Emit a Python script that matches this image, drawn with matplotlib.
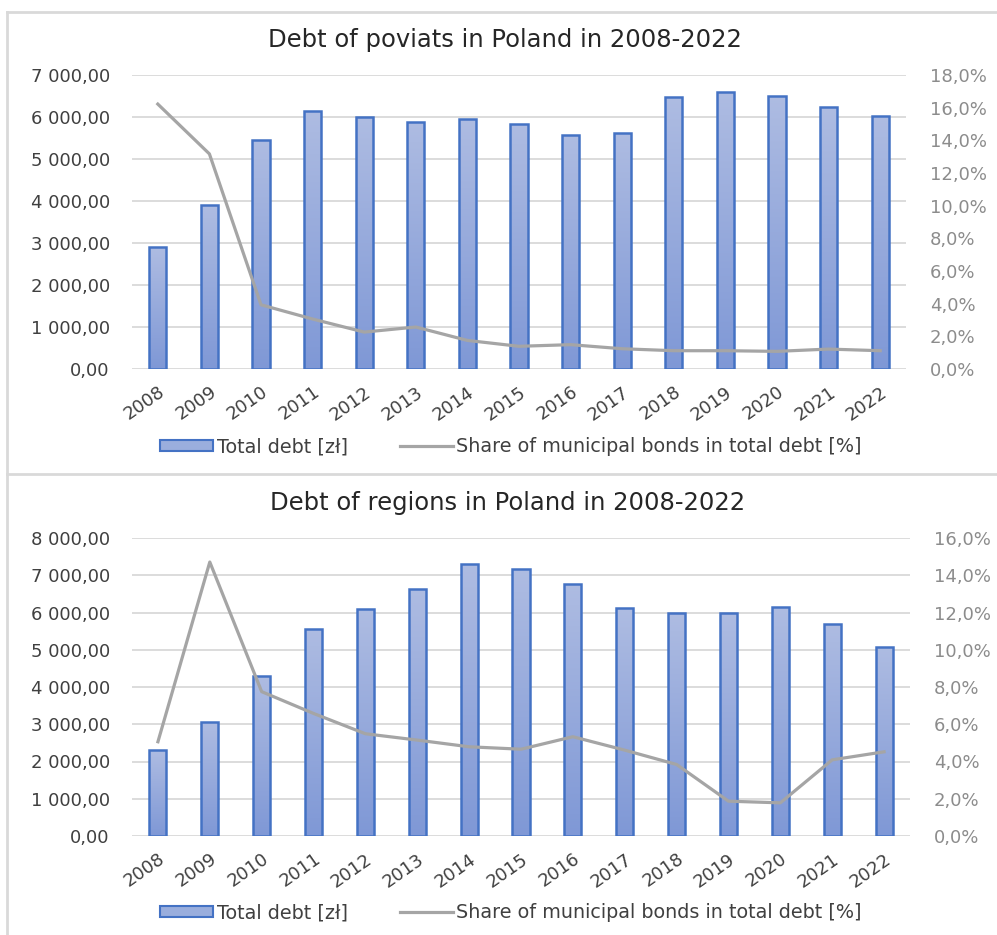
import numpy as np
import matplotlib.pyplot as plt
from matplotlib.ticker import FuncFormatter
from matplotlib.lines import Line2D
from matplotlib.patches import Patch

years = [str(y) for y in range(2008, 2023)]

# poviats
poviat_debt = [2895, 3910, 5455, 6145, 5995, 5885, 5955, 5845, 5583, 5630,
               6487, 6598, 6511, 6233, 6035]
poviat_share = [16.22, 13.17, 3.93, 3.06, 2.26, 2.57, 1.75, 1.39, 1.49, 1.24,
                1.12, 1.12, 1.08, 1.22, 1.12]

# regions
region_debt = [2305, 3067, 4296, 5570, 6099, 6619, 7291, 7157, 6771, 6108,
               5991, 5991, 6135, 5686, 5085]
region_share = [5.06, 14.71, 7.75, 6.58, 5.49, 5.15, 4.79, 4.66, 5.33, 4.61,
                3.84, 1.87, 1.78, 4.09, 4.52]

plt.rcParams['font.family'] = ['DejaVu Sans']

W, H = 997, 935
fig = plt.figure(figsize=(W / 100, H / 100), dpi=100)

edge_col = '#4472C4'
line_col = '#A5A5A5'
grid_col = '#D9D9D9'


def fmt_left(v, pos):
    s = f"{v:,.2f}"
    return s.replace(',', ' ').replace('.', ',')


def fmt_right(v, pos):
    return f"{v:.1f}%".replace('.', ',')


def gradient_bars(ax, bars):
    grad = np.linspace(0, 1, 256).reshape(-1, 1)
    cmap = plt.matplotlib.colors.LinearSegmentedColormap.from_list(
        'g', ['#7F98D6', '#AEBCE2'])
    for b in bars:
        x0, y0 = b.get_x(), b.get_y()
        w, h = b.get_width(), b.get_height()
        im = ax.imshow(grad, extent=(x0, x0 + w, y0, y0 + h), origin='lower',
                       cmap=cmap, aspect='auto', zorder=2)
        im.set_clip_path(b)


def panel(rect, title, title_x, title_y, debt, share, ymax, rmax, legend_y):
    L, T, R, B = rect
    ax = fig.add_axes([L / W, 1 - B / H, (R - L) / W, (B - T) / H])
    x = np.arange(len(years))
    bars = ax.bar(x, debt, width=0.33, facecolor='none', edgecolor=edge_col,
                  linewidth=1.8, zorder=3)
    gradient_bars(ax, bars)
    ax.set_xlim(-0.5, len(years) - 0.5)
    ax.set_ylim(0, ymax)
    ax.set_yticks(np.arange(0, ymax + 1, 1000))
    ax.yaxis.set_major_formatter(FuncFormatter(fmt_left))
    ax.set_xticks(x)
    ax.set_xticklabels(years, rotation=35, ha='right', rotation_mode='anchor')
    ax.tick_params(axis='both', length=0, labelsize=13, colors='#404040')
    ax.tick_params(axis='y', pad=16)
    ax.tick_params(axis='x', pad=10)
    ax.grid(axis='y', color=grid_col, linewidth=1.3, zorder=0)
    ax.set_axisbelow(True)
    for s in ax.spines.values():
        s.set_visible(False)

    ax2 = ax.twinx()
    ax2.plot(x, share, color=line_col, linewidth=2.3, zorder=4)
    ax2.set_ylim(0, rmax)
    ax2.set_yticks(np.arange(0, rmax + 0.1, 2))
    ax2.yaxis.set_major_formatter(FuncFormatter(fmt_right))
    ax2.tick_params(axis='y', length=0, labelsize=13, colors='#8C8C8C', pad=17)
    for s in ax2.spines.values():
        s.set_visible(False)

    fig.text(title_x / W, 1 - title_y / H, title, ha='center', va='center',
             fontsize=17.5, color='#262626')

    handles = [Patch(facecolor='#9AAEDD', edgecolor=edge_col, linewidth=1.5),
               Line2D([0], [0], color=line_col, linewidth=2.3)]
    labels = ['Total debt [zł]', 'Share of municipal bonds in total debt [%]']
    fig.legend(handles, labels, loc='center', bbox_to_anchor=(511 / W, 1 - legend_y / H),
               ncol=2, frameon=False, fontsize=13.8, handlelength=2.76,
               handleheight=0.55, handletextpad=0.2, columnspacing=2.7,
               labelcolor='#404040')
    return ax


panel((132, 75, 906, 369), 'Debt of poviats in Poland in 2008-2022', 505, 40,
      poviat_debt, poviat_share, 7000, 18, 447)
panel((132, 538, 910, 836), 'Debt of regions in Poland in 2008-2022', 508, 503,
      region_debt, region_share, 8000, 16, 913)

# panel frame lines
for xs, ys in [((7, 997), (12, 12)), ((7, 7), (12, 935)), ((7, 997), (474, 474))]:
    fig.add_artist(Line2D([x / W for x in xs], [1 - y / H for y in ys],
                          color=grid_col, linewidth=2))

fig.savefig('out.png', dpi=100)
